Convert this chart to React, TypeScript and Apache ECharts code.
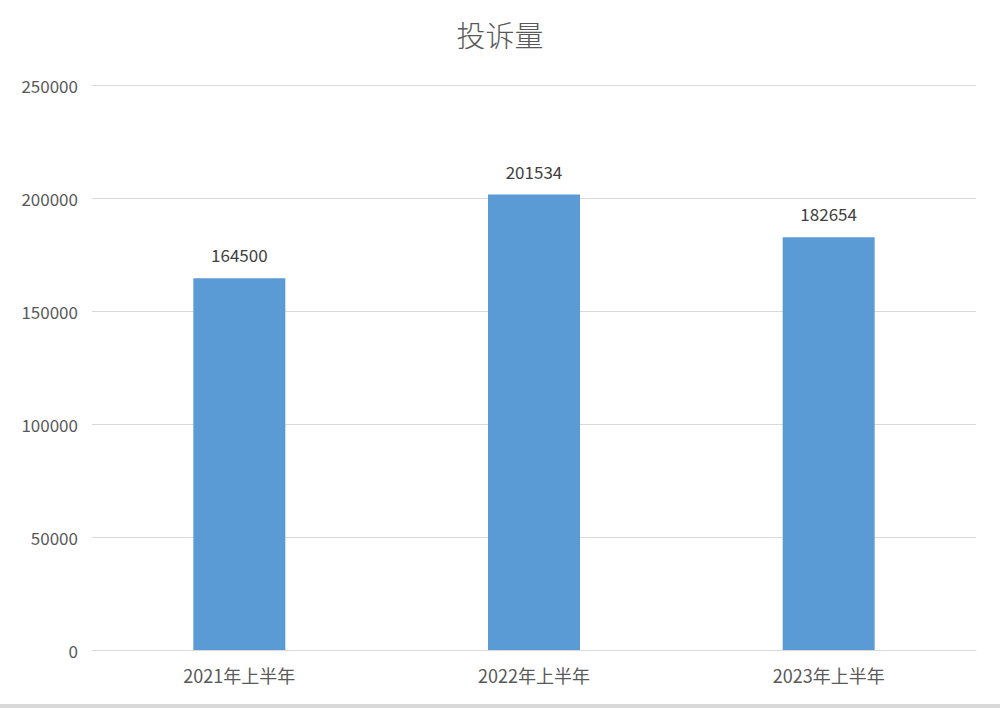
import React, { useEffect, useRef } from "react";
import * as echarts from "echarts";

const categories = ["2021年上半年", "2022年上半年", "2023年上半年"];
const complaints = [164500, 201534, 182654];
const yTicks = [0, 50000, 100000, 150000, 200000, 250000];

const FONT = '"Noto Sans CJK SC", "Microsoft YaHei", sans-serif';

export default function App() {
    const chartRef = useRef<HTMLDivElement>(null);

    useEffect(() => {
        if (chartRef.current === null) return;
        const chart = echarts.init(chartRef.current, undefined, { renderer: "svg" });

        const option: echarts.EChartsOption = {
            animation: false,
            backgroundColor: "#ffffff",
            title: {
                text: "投诉量",
                left: "center",
                top: 14,
                textStyle: {
                    color: "#595959",
                    fontSize: 29,
                    fontWeight: 300,
                    fontFamily: FONT,
                },
            },
            grid: {
                left: 92,
                right: 24,
                top: 85,
                bottom: 54,
            },
            xAxis: {
                type: "category",
                data: categories,
                axisTick: { show: false },
                axisLine: { lineStyle: { color: "#d9d9d9", width: 1 } },
                axisLabel: {
                    color: "#595959",
                    fontSize: 18,
                    fontFamily: FONT,
                    margin: 16,
                },
            },
            yAxis: {
                type: "value",
                min: yTicks[0],
                max: yTicks[yTicks.length - 1],
                interval: yTicks[1] - yTicks[0],
                axisLine: { show: false },
                axisTick: { show: false },
                axisLabel: {
                    color: "#595959",
                    fontSize: 17,
                    fontFamily: FONT,
                    margin: 14,
                    formatter: (v: number) => String(v),
                },
                splitLine: { lineStyle: { color: "#d9d9d9", width: 1 } },
            },
            series: [
                {
                    type: "bar",
                    data: complaints,
                    barWidth: 92,
                    itemStyle: { color: "#5b9bd5" },
                    label: {
                        show: true,
                        position: "top",
                        distance: 15,
                        color: "#404040",
                        fontSize: 17,
                        fontFamily: FONT,
                    },
                },
            ],
        };

        chart.setOption(option);

        return () => {
            chart.dispose();
        };
    }, []);

    return (
        <div style={{ position: "fixed", left: 0, top: 0, width: 1000, height: 708 }}>
            <div ref={chartRef} style={{ width: 1000, height: 704 }} />
            <div style={{ width: 1000, height: 4, background: "#d9d9d9" }} />
        </div>
    );
}
